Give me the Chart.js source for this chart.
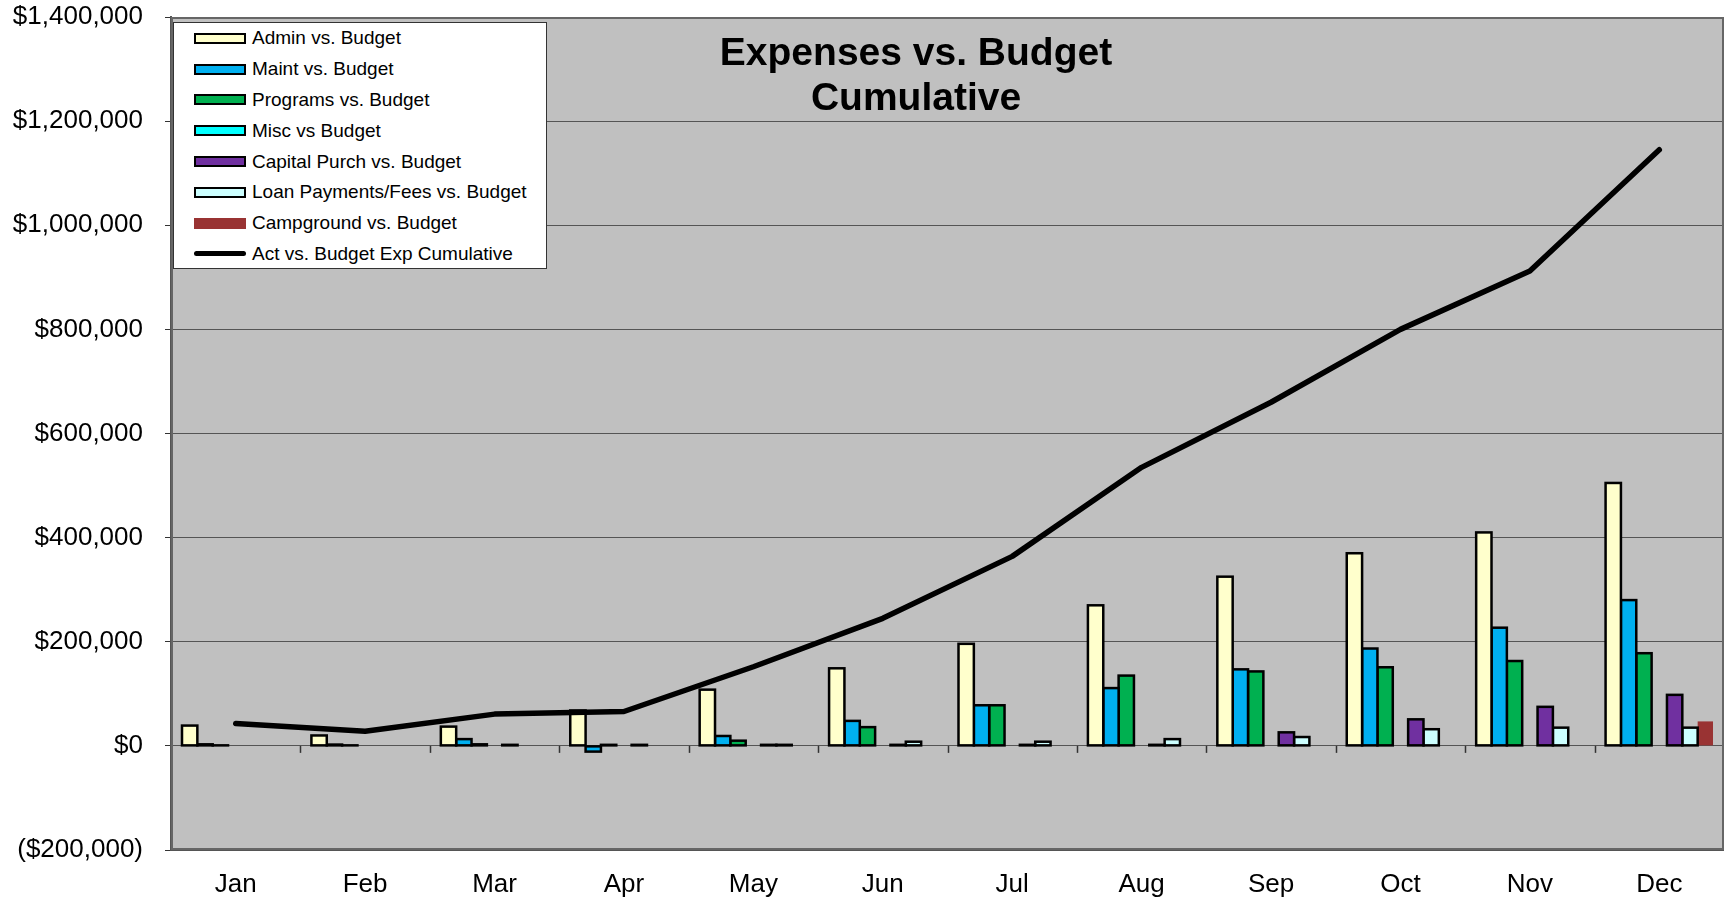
<!DOCTYPE html>
<html>
<head>
<meta charset="utf-8">
<script src="https://cdn.jsdelivr.net/npm/chart.js@4.4.0/dist/chart.umd.min.js"></script>
<style>
html,body{margin:0;padding:0;background:#fff;}
#wrap{position:relative;width:1726px;height:898px;}
#legend{position:absolute;left:173px;top:22px;width:374px;height:247px;background:#fff;border:1px solid #333;box-sizing:border-box;
  font:19px "Liberation Sans",Arial,sans-serif;color:#000;}
.row{height:30.8px;display:flex;align-items:center;white-space:nowrap;}
.sw{width:48px;height:7px;border:2px solid #000;margin-left:20px;margin-right:6px;flex:none;}
.sw.noline{border-color:transparent;}
.sw.line{height:5px;border:none;border-radius:3px;width:52px;background:#000;}
</style>
</head>
<body>
<div id="wrap">
  <canvas id="c" width="1726" height="898"></canvas>
  <div id="legend"></div>
</div>
<script>
// categories
const months = ['Jan','Feb','Mar','Apr','May','Jun','Jul','Aug','Sep','Oct','Nov','Dec'];

// series (dollars)
const admin    = [39000, 20000, 37000, 68000, 108000, 149000, 196000, 270000, 325000, 370000, 410000, 505000];
const maint    = [3000, 2500, 13000, -11000, 19000, 48000, 78000, 111000, 147000, 187000, 227000, 280000];
const programs = [1000, 1000, 3000, 2000, 10000, 36000, 78000, 135000, 143000, 151000, 163000, 178000];
const misc     = [null, null, null, null, null, null, null, null, null, null, null, null];
const capital  = [null, null, 2000, 2000, 2000, 2000, 2000, 2000, 26000, 51000, 75000, 98000];
const loan     = [null, null, null, null, 2000, 8000, 8000, 13000, 17000, 32000, 35000, 35000];
const campground = [null, null, null, null, null, null, null, null, null, null, null, 47000];
const cumulative = [43000, 28000, 61000, 66000, 152000, 245000, 364000, 535000, 660000, 800000, 912000, 1145000];

// axis
const yMin = -200000, yMax = 1400000, yStep = 200000;

const FONT = '"Liberation Sans", Arial, sans-serif';

const barSeries = [
  {label:'Admin vs. Budget', data:admin, color:'#FFFFCC', border:true},
  {label:'Maint vs. Budget', data:maint, color:'#00B0F0', border:true},
  {label:'Programs vs. Budget', data:programs, color:'#00B050', border:true},
  {label:'Misc vs Budget', data:misc, color:'#00FFFF', border:true},
  {label:'Capital Purch vs. Budget', data:capital, color:'#7030A0', border:true},
  {label:'Loan Payments/Fees vs. Budget', data:loan, color:'#CCFFFF', border:true},
  {label:'Campground vs. Budget', data:campground, color:'#993333', border:false}
];
const lineLabel = 'Act vs. Budget Exp Cumulative';

// legend (html)
const leg = document.getElementById('legend');
barSeries.forEach(s=>{
  leg.insertAdjacentHTML('beforeend',
    `<div class="row"><span class="sw${s.border?'':' noline'}" style="background:${s.color}"></span>${s.label}</div>`);
});
leg.insertAdjacentHTML('beforeend', `<div class="row"><span class="sw line"></span>${lineLabel}</div>`);

const plotDeco = {
  id:'plotDeco',
  beforeDraw(chart){
    const {ctx, chartArea:a} = chart;
    ctx.save(); ctx.fillStyle='#C0C0C0'; ctx.fillRect(a.left,a.top,a.right-a.left,a.bottom-a.top); ctx.restore();
  },
  // excel style outline: stroke centred on the bar edges, so tiny bars still show as a dash
  afterDatasetDraw(chart, args){
    const ds = chart.data.datasets[args.index];
    if(ds.type!=='bar' || !ds.outline) return;
    const ctx = chart.ctx;
    ctx.save(); ctx.strokeStyle='#000'; ctx.lineWidth=2.5; ctx.lineJoin='miter';
    args.meta.data.forEach((el,i)=>{
      if(ds.data[i]==null) return;
      const top = Math.min(el.y, el.base), h = Math.abs(el.base-el.y);
      ctx.strokeRect(el.x-el.width/2, top, el.width, h);
    });
    ctx.restore();
  },
  afterDraw(chart){
    const {ctx, chartArea:a, scales} = chart;
    ctx.save();
    // frame
    ctx.strokeStyle='#666'; ctx.lineWidth=2;
    ctx.strokeRect(a.left+1,a.top+1,a.right-a.left-2,a.bottom-a.top-2);
    // category tick marks hanging from zero line
    const y0 = scales.y.getPixelForValue(0);
    const w = (a.right-a.left)/months.length;
    ctx.strokeStyle='#333'; ctx.lineWidth=1.5;
    for(let i=1;i<months.length;i++){
      const x = Math.round(a.left+i*w)+0.5;
      ctx.beginPath(); ctx.moveTo(x,y0); ctx.lineTo(x,y0+7); ctx.stroke();
    }
    // title
    ctx.fillStyle='#000'; ctx.textAlign='center'; ctx.textBaseline='middle';
    ctx.font='bold 39px '+FONT;
    ctx.fillText('Expenses vs. Budget', 916, 54);
    ctx.fillText('Cumulative', 916, 99);
    ctx.restore();
  }
};

const datasets = barSeries.map(s=>({
  type:'bar', label:s.label, data:s.data, outline:s.border,
  backgroundColor:s.color, borderWidth:0, order:2,
  categoryPercentage:0.83, barPercentage:1
}));
datasets.push({
  type:'line', label:lineLabel, data:cumulative,
  borderColor:'#000', borderWidth:5.5, pointRadius:0, tension:0, order:1,
  borderCapStyle:'round', borderJoinStyle:'round'
});

new Chart(document.getElementById('c'),{
  type:'bar',
  data:{ labels:months, datasets },
  options:{
    responsive:false, animation:false,
    layout:{ padding:{ top:17, right:2, left:0, bottom:0 } },
    plugins:{ legend:{display:false}, tooltip:{enabled:false}, title:{display:false} },
    scales:{
      x:{
        grid:{ display:false }, border:{ display:false },
        ticks:{ font:{ family:FONT, size:26 }, color:'#000', padding:11, maxRotation:0 },
        afterFit(s){ s.height = 48; s.paddingLeft = 0; s.paddingRight = 0; }
      },
      y:{
        min:yMin, max:yMax,
        ticks:{ stepSize:yStep, font:{ family:FONT, size:26 }, color:'#000', padding:22,
          callback:v=> v<0 ? '($'+Math.abs(v).toLocaleString('en-US')+')' : '$'+v.toLocaleString('en-US') },
        grid:{ color:'#555', lineWidth:1, drawTicks:true, tickLength:6, tickColor:'#333' },
        border:{ display:true, color:'#555', width:2 },
        afterFit(s){ s.width = 171; s.paddingTop = 0; s.paddingBottom = 0; }
      }
    }
  },
  plugins:[plotDeco]
});
</script>
</body>
</html>
